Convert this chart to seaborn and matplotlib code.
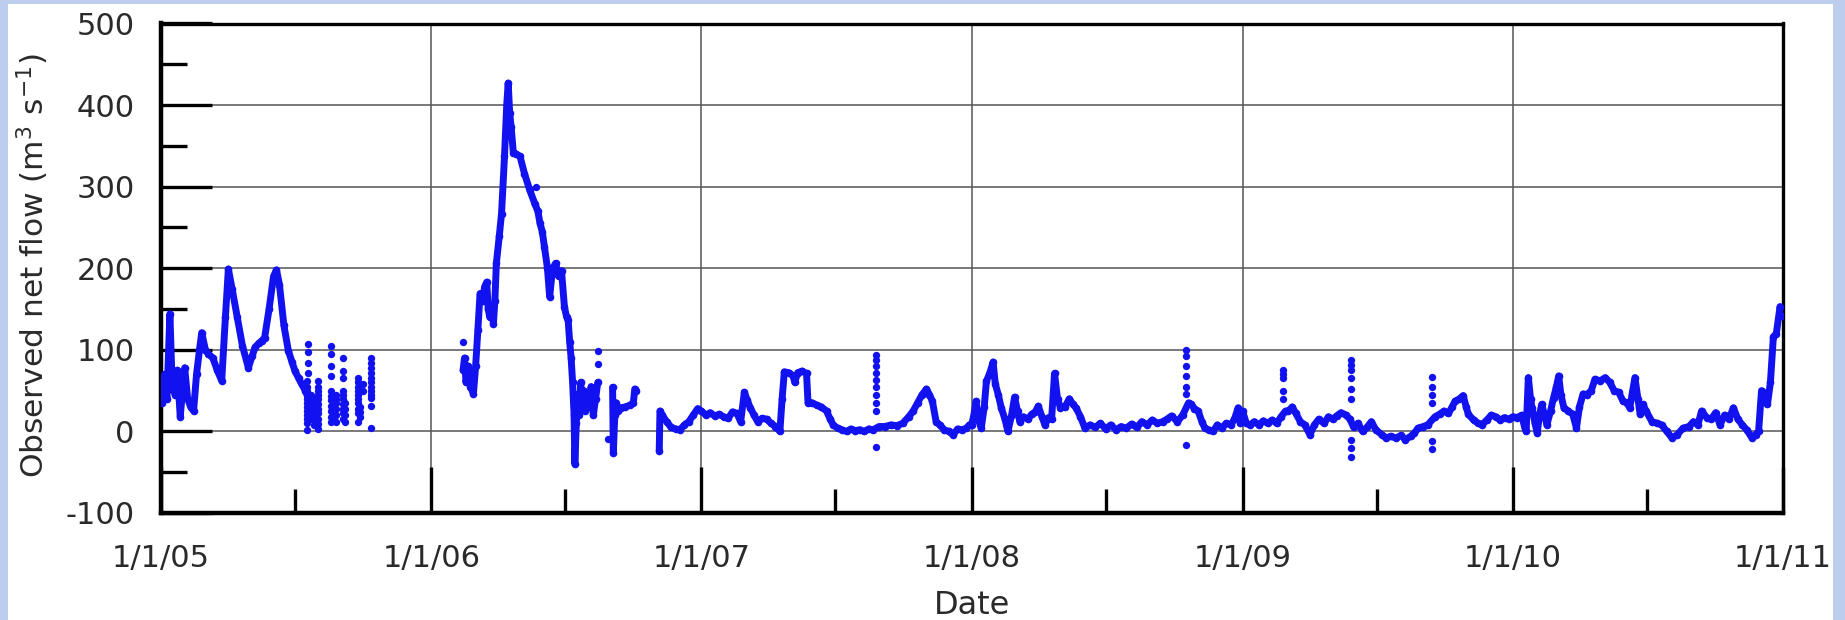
import numpy as np
import pandas as pd
import matplotlib
matplotlib.use("Agg")
import matplotlib.pyplot as plt
import matplotlib.dates as mdates
from matplotlib.ticker import MultipleLocator
from matplotlib.patches import Rectangle
import seaborn as sns

# ---------------- data (day-of-year offsets and net flow, m3/s) ----------------
seg05_doy = [0, 2, 5, 8, 12, 15, 19, 22, 26, 30, 32, 36, 40, 44, 48, 52, 55, 60, 64, 70, 76, 82,
             87, 91, 96, 103, 110, 118, 123, 127, 132, 136, 140, 146, 152, 156, 160, 166, 172, 177,
             181, 186, 190, 195, 199, 202]
seg05_q = [55, 35, 70, 40, 144, 60, 45, 75, 18, 60, 78, 40, 30, 25, 70, 100, 121, 100, 95, 90, 75, 62,
           140, 199, 175, 140, 105, 78, 92, 103, 108, 111, 115, 150, 190, 198, 180, 130, 99, 85,
           74, 65, 58, 50, 41, 35]

seg06a_doy = [43, 45, 47, 50, 53, 57, 60, 63, 66, 70, 72, 75, 77, 79, 82, 84, 86, 88, 92, 95, 99, 102,
              104, 106, 108, 111, 115, 120, 126, 133, 140, 144, 147, 150, 153, 157, 160, 164, 168,
              172, 176, 180, 183, 185, 187, 189, 191, 193, 194, 196, 198, 200, 202, 204, 206, 208,
              210, 213, 216, 219, 222, 225]
seg06a_q = [75, 90, 60, 80, 55, 46, 80, 124, 169, 160, 177, 183, 150, 140, 150, 132, 160, 206, 240, 267,
            337, 400, 427, 390, 373, 341, 340, 337, 316, 296, 279, 270, 255, 245, 226, 200, 165, 200,
            206, 190, 197, 152, 140, 136, 110, 90, 60, 20, -40, 10, 45, 20, 60, 30, 50, 25, 45, 30,
            55, 20, 40, 60]

seg06b_doy = [245, 246, 248, 250, 252, 256, 262, 268, 273, 275, 277]
seg06b_q = [54, -26, 20, 35, 25, 29, 30, 32, 35, 52, 50]

seg06c_doy = [308, 309, 312, 318, 324, 330, 336, 342, 348, 354, 360]
seg06c_q = [-24, 25, 20, 12, 5, 3, 2, 8, 12, 20, 28]

q07_doy = [0, 6, 12, 18, 24, 30, 36, 42, 48, 53, 58, 62, 66, 71, 76, 82, 88, 94, 100, 106, 109, 112,
           118, 124, 126, 130, 136, 142, 144, 150, 156, 162, 169, 174, 178, 184, 190, 196, 202, 208,
           214, 220, 226, 232, 240, 248, 256, 264, 272, 280, 286, 292, 298, 304, 308, 312, 317, 322,
           328, 334, 340, 346, 352, 358, 362]
q07 = [25, 20, 23, 19, 21, 18, 16, 24, 22, 12, 48, 38, 29, 20, 12, 16, 15, 10, 6, 0, 40, 73,
       72, 68, 60, 72, 74, 71, 35, 35, 32, 30, 25, 15, 8, 4, 2, 0, 3, 1,
       2, 0, 3, 2, 6, 6, 8, 7, 10, 18, 25, 35, 45, 52, 45, 37, 12, 8,
       2, 0, -4, 3, 2, 4, 8]

q08_doy = [0, 3, 6, 9, 13, 17, 20, 24, 29, 32, 36, 40, 45, 49, 54, 58, 62, 65, 70, 76, 81, 86, 90, 95,
           99, 104, 108, 112, 116, 120, 126, 132, 137, 141, 147, 153, 160, 167, 174, 181, 188, 195,
           202, 209, 216, 223, 230, 237, 244, 251, 258, 264, 270, 278, 285, 293, 297, 301, 306, 311,
           315, 320, 326, 332, 338, 344, 350, 355, 360, 363]
q08 = [8, 20, 37, 15, 4, 30, 62, 70, 85, 58, 45, 29, 15, 0, 20, 42, 25, 12, 18, 15, 21, 24, 31, 18,
       8, 17, 15, 71, 40, 29, 30, 40, 33, 29, 18, 4, 8, 5, 10, 3, 8, 2,
       6, 4, 9, 5, 12, 8, 14, 10, 12, 15, 19, 12, 20, 35, 33, 28, 25, 12,
       4, 2, 0, 8, 4, 10, 8, 15, 29, 10]

q09_doy = [0, 5, 10, 16, 22, 28, 34, 40, 46, 52, 58, 62, 67, 72, 78, 84, 91, 97, 103, 110, 116, 122,
           127, 133, 140, 145, 150, 156, 162, 168, 174, 180, 188, 194, 200, 207, 214, 220, 227, 232,
           237, 244, 250, 260, 266, 272, 278, 283, 287, 293, 298, 302, 305, 312, 318, 323, 330, 336,
           342, 348, 354, 360]
q09 = [25, 10, 8, 12, 8, 13, 10, 14, 10, 18, 25, 25, 30, 22, 12, 8, -4, 8, 15, 10, 18, 15,
       19, 23, 20, 15, 5, 10, 0, 5, 12, 2, -4, -8, -6, -8, -5, -10, -6, -2,
       4, 6, 8, 18, 21, 25, 22, 30, 37, 40, 44, 30, 21, 14, 10, 8, 14, 20,
       18, 14, 17, 15]

q10_doy = [0, 6, 12, 16, 18, 21, 24, 26, 30, 33, 36, 39, 43, 46, 51, 55, 59, 62, 65, 69, 75, 81, 86,
           90, 95, 100, 106, 111, 118, 125, 131, 137, 143, 149, 154, 158, 162, 165, 169, 172, 176,
           180, 188, 195, 201, 208, 215, 222, 230, 238, 244, 250, 255, 262, 268, 274, 280, 286, 292,
           298, 304, 310, 316, 323, 328, 332, 336, 340, 344, 348, 352, 356, 361, 364]
q10 = [18, 17, 20, 5, 0, 66, 40, 29, 10, -2, 20, 33, 20, 8, 25, 41, 55, 68, 45, 29, 25, 21, 4,
       30, 46, 45, 50, 64, 62, 66, 60, 50, 48, 37, 35, 29, 50, 66, 40, 21, 33,
       25, 12, 10, 8, 0, -8, -4, 4, 6, 12, 8, 25, 17, 15, 23, 8, 20, 15,
       29, 15, 8, 2, -8, -4, 0, 50, 40, 33, 60, 116, 120, 153, 141]

# isolated dots and spikes: one group per day (year, day-of-year, flows on that day)
dot_group_year = [2005] * 14 + [2006] * 4 + [2007] + [2008] + [2009] * 3
dot_group_doy = [197, 199, 203, 206, 212, 229, 233, 237, 246, 249, 266, 269, 273, 284,
                 43, 141, 225, 239,
                 236,
                 290,
                 55, 147, 256]
dot_group_q = [[62, 55, 50, 45, 40, 35, 30, 25, 20, 15, 10, 2], [107, 97, 84, 72],
               [45, 38, 30, 22, 15], [40, 32, 25, 16, 8], [62, 55, 50, 45, 40, 34, 28, 22, 15, 9, 3],
               [105, 95, 80, 68, 50, 44, 38, 31, 25, 18, 12], [40, 32, 25, 20, 15],
               [45, 40, 35, 28, 20, 12], [90, 74, 66, 50, 45, 40, 34, 28, 22, 15], [35, 28, 20, 12],
               [66, 60, 55, 50, 45, 40, 35, 28, 22, 12], [30, 24, 18], [58, 50],
               [90, 84, 78, 72, 66, 60, 55, 50, 45, 41, 31, 4],
               [109], [300], [99, 83], [-9],
               [94, 88, 80, 72, 63, 55, 45, 35, 25, -19],
               [100, 92, 80, 68, 55, 46, -17],
               [75, 70, 65, 50, 40], [87, 82, 75, 65, 52, 40, -10, -20, -31], [67, 55, 45, 35, -12, -21]]

y_ticks = [-100, 0, 100, 200, 300, 400, 500]
x_start, x_end = "2005-01-01", "2011-01-01"


def to_dates(year, doy):
    return pd.Timestamp(f"{year}-01-01") + pd.to_timedelta(np.asarray(doy), unit="D")


frames = []
for seg_id, (yr, d, q) in enumerate([(2005, seg05_doy, seg05_q), (2006, seg06a_doy, seg06a_q),
                                      (2006, seg06b_doy, seg06b_q)]):
    frames.append(pd.DataFrame({"date": to_dates(yr, d), "q": q, "seg": seg_id}))
cont = [(2006, seg06c_doy, seg06c_q), (2007, q07_doy, q07), (2008, q08_doy, q08),
        (2009, q09_doy, q09), (2010, q10_doy, q10)]
for yr, d, q in cont:
    frames.append(pd.DataFrame({"date": to_dates(yr, d), "q": q, "seg": 3}))
df = pd.concat(frames, ignore_index=True)

rows = []
for yr, d, qs in zip(dot_group_year, dot_group_doy, dot_group_q):
    for q in qs:
        rows.append({"date": pd.Timestamp(f"{yr}-01-01") + pd.Timedelta(days=d), "q": q})
dots = pd.DataFrame(rows)

# ---------------- style ----------------
sns.set_theme(style="white")
plt.rcParams["font.family"] = ["DejaVu Sans"]
plt.rcParams["mathtext.fontset"] = "dejavusans"
plt.rcParams["axes.unicode_minus"] = False

W, H = 1845, 620
AX_L, AX_R, AX_T, AX_B = 161, 1783, 23.5, 513
fig = plt.figure(figsize=(W / 100, H / 100), dpi=100, facecolor="#bccdee")
fig.patches.append(Rectangle((8 / W, 0), (1833 - 8) / W, 1 - 4 / H, transform=fig.transFigure,
                             facecolor="white", edgecolor="none", zorder=-10))
ax = fig.add_axes([AX_L / W, 1 - AX_B / H, (AX_R - AX_L) / W, (AX_B - AX_T) / H])
ax.set_facecolor("white")

blue = "#1212f0"
sns.lineplot(data=df, x="date", y="q", units="seg", estimator=None, sort=False, ax=ax,
             color=blue, linewidth=5.0, marker="o", markersize=5.5, markeredgewidth=0, legend=False,
             zorder=3)
sns.scatterplot(data=dots, x="date", y="q", ax=ax, color=blue, s=28, linewidth=0, legend=False,
                zorder=3)

ax.set_xlim(pd.Timestamp(x_start), pd.Timestamp(x_end))
ax.set_ylim(-100, 500)
ax.set_yticks(y_ticks)
ax.yaxis.set_minor_locator(MultipleLocator(50))
ax.xaxis.set_major_locator(mdates.YearLocator())
ax.xaxis.set_minor_locator(mdates.MonthLocator(bymonth=7))
ax.xaxis.set_major_formatter(mdates.DateFormatter("%-m/%-d/%y"))

ax.grid(True, which="major", color="#555555", linewidth=1.1)
ax.set_axisbelow(True)

for name, s in ax.spines.items():
    s.set_visible(True)
    s.set_color("black")
    s.set_linewidth(3.2 if name in ("left", "bottom") else 2.4)

txt = "#2a2a2a"
ax.tick_params(axis="y", which="major", direction="in", length=37, width=2.4, color="black",
               labelsize=22, pad=19, labelcolor=txt, left=True, right=False)
ax.tick_params(axis="y", which="minor", direction="in", length=19, width=2.4, color="black",
               left=True, right=False)
ax.tick_params(axis="x", which="major", direction="in", length=33, width=2.4, color="black",
               labelsize=22, pad=22, labelcolor=txt, bottom=True, top=False)
ax.tick_params(axis="x", which="minor", direction="in", length=17, width=2.4, color="black",
               bottom=True, top=False)

ax.set_xlabel("Date", fontsize=23, color=txt)
ax.xaxis.label.set_verticalalignment("top")
ax.xaxis.set_label_coords(0.5, (AX_B - 590) / (AX_B - AX_T))
ax.set_ylabel(r"Observed net flow (m$^3$ s$^{-1}$)", fontsize=22.5, color=txt)
ax.yaxis.label.set_verticalalignment("center")
ax.yaxis.set_label_coords((33 - AX_L) / (AX_R - AX_L), (AX_B - 266) / (AX_B - AX_T))

fig.savefig("out.png", dpi=100, facecolor=fig.get_facecolor())
